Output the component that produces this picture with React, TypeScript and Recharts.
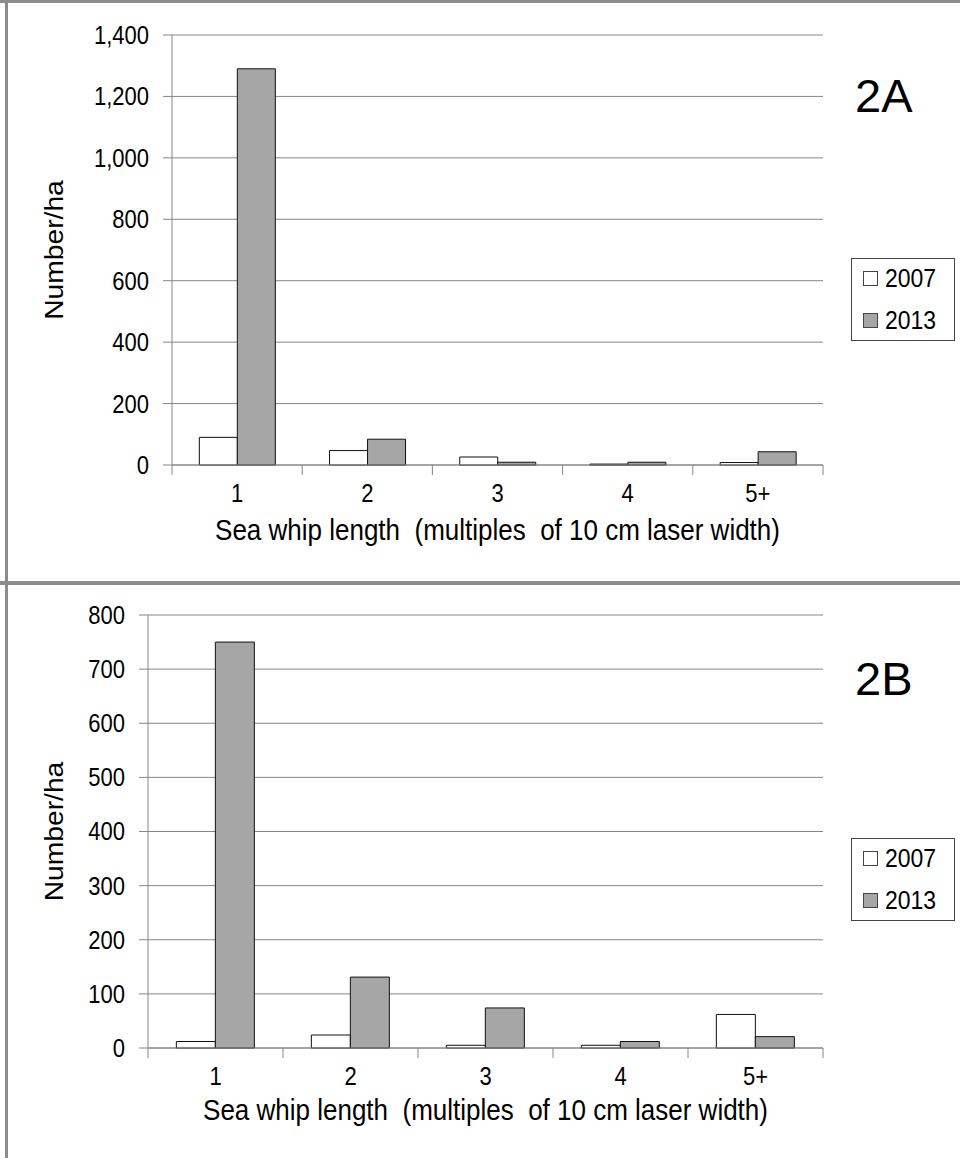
import React from "react";
import { BarChart, Bar, XAxis, YAxis, CartesianGrid, Legend } from "recharts";

const categories = ["1", "2", "3", "4", "5+"];
const seriesNames = ["2007", "2013"];

// panel 2A
const countsA2007 = [90, 47, 26, 3, 8];
const countsA2013 = [1290, 84, 9, 9, 43];
const ticksA = [0, 200, 400, 600, 800, 1000, 1200, 1400];

// panel 2B
const countsB2007 = [12, 24, 5, 5, 62];
const countsB2013 = [750, 131, 74, 12, 21];
const ticksB = [0, 100, 200, 300, 400, 500, 600, 700, 800];

const font = '"Liberation Sans", Arial, sans-serif';
const lineGray = "#868686";
const fills = ["#ffffff", "#a6a6a6"];
const xTitle = "Sea whip length  (multiples  of 10 cm laser width)";
// the source figure's text is a little taller than it is wide
const stretch = 1.13;

function CategoryTick(props: any) {
  const { x, y, payload, index, width } = props;
  const half = payload.offset ?? width / categories.length / 2;
  return (
    <g>
      <line x1={x - half} x2={x - half} y1={y} y2={y + 10} stroke={lineGray} />
      {index === categories.length - 1 && (
        <line x1={x + half} x2={x + half} y1={y} y2={y + 10} stroke={lineGray} />
      )}
      <text
        transform={`translate(${x} ${y + 37}) scale(1 ${stretch})`}
        textAnchor="middle"
        fontSize={22}
        fill="#000"
        fontFamily={font}
      >
        {payload.value}
      </text>
    </g>
  );
}

function ValueTick(props: any) {
  const { x, y, payload } = props;
  return (
    <text
      transform={`translate(${x} ${y}) scale(1 ${stretch})`}
      dy="0.36em"
      textAnchor="end"
      fontSize={22}
      fill="#000"
      fontFamily={font}
    >
      {payload.value.toLocaleString("en-US")}
    </text>
  );
}

function LegendBox() {
  return (
    <div
      style={{
        border: "1px solid #444",
        background: "#fff",
        width: 104,
        height: 83,
        boxSizing: "border-box",
        fontFamily: font,
        fontSize: 23,
        color: "#000",
        paddingTop: 6,
      }}
    >
      {seriesNames.map((name, i) => (
        <div key={name} style={{ display: "flex", alignItems: "center", height: 27, marginBottom: i === 0 ? 15 : 0 }}>
          <span
            style={{
              display: "inline-block",
              width: 13,
              height: 13,
              marginLeft: 11,
              marginRight: 7,
              background: fills[i],
              border: "1px solid #444",
            }}
          />
          <span style={{ display: "inline-block", transform: `scaleY(${stretch})` }}>{name}</span>
        </div>
      ))}
    </div>
  );
}

interface PanelProps {
  top: number;
  height: number;
  a: number[];
  b: number[];
  ticks: number[];
  axisWidth: number;
  bottomMargin: number;
  titleDy: number;
}

function Panel({ top, height, a, b, ticks, axisWidth, bottomMargin, titleDy }: PanelProps) {
  const data = categories.map((c, i) => ({ name: c, y2007: a[i], y2013: b[i] }));
  return (
    <div style={{ position: "absolute", left: 0, top }}>
      <BarChart
        width={960}
        height={height}
        data={data}
        margin={{ top: 35, right: 137, bottom: bottomMargin, left: 0 }}
        barCategoryGap="21%"
        barGap={0}
      >
        <CartesianGrid vertical={false} stroke={lineGray} />
        <XAxis
          dataKey="name"
          height={85}
          stroke={lineGray}
          tickLine={false}
          tickSize={0}
          tickMargin={0}
          tick={<CategoryTick />}
          label={{
            content: ({ viewBox }: any) => (
              <text
                transform={`translate(${viewBox.x + viewBox.width / 2} ${viewBox.y + titleDy}) scale(1 ${stretch})`}
                textAnchor="middle"
                fontSize={26}
                fill="#000"
                fontFamily={font}
                style={{ whiteSpace: "pre" }}
              >
                {xTitle}
              </text>
            ),
          }}
        />
        <YAxis
          width={axisWidth}
          domain={[0, ticks[ticks.length - 1]]}
          ticks={ticks}
          interval={0}
          stroke={lineGray}
          tickSize={9}
          tickMargin={14}
          tick={<ValueTick />}
          label={{
            content: ({ viewBox }: any) => {
              const cy = viewBox.y + viewBox.height / 2;
              return (
                <text
                  transform={`translate(63 ${cy}) rotate(-90) scale(${stretch} 1)`}
                  textAnchor="middle"
                  fontSize={25}
                  fill="#000"
                  fontFamily={font}
                >
                  Number/ha
                </text>
              );
            },
          }}
        />
        <Legend
          layout="vertical"
          align="center"
          verticalAlign="middle"
          content={() => <LegendBox />}
          wrapperStyle={{ left: 851, top: 258, width: 104 }}
        />
        <Bar dataKey="y2007" name={seriesNames[0]} fill={fills[0]} stroke="#111" isAnimationActive={false} />
        <Bar dataKey="y2013" name={seriesNames[1]} fill={fills[1]} stroke="#111" isAnimationActive={false} />
      </BarChart>
    </div>
  );
}

export default function App() {
  const border = "#8c8c8c";
  const tag = { position: "absolute" as const, left: 855, fontSize: 47, lineHeight: "47px", fontFamily: font, color: "#000" };
  return (
    <div style={{ position: "absolute", left: 0, top: 0, width: 960, height: 1158, background: "#fff", overflow: "hidden" }}>
      <Panel top={0} height={580} a={countsA2007} b={countsA2013} ticks={ticksA} axisWidth={172} bottomMargin={30} titleDy={75} />
      <Panel top={580} height={578} a={countsB2007} b={countsB2013} ticks={ticksB} axisWidth={148} bottomMargin={25} titleDy={72} />
      <div style={{ ...tag, top: 72 }}>2A</div>
      <div style={{ ...tag, top: 655 }}>2B</div>
      <div style={{ position: "absolute", left: 0, top: 0, width: 960, height: 3, background: border }} />
      <div style={{ position: "absolute", left: 5, top: 0, width: 3, height: 1158, background: border }} />
      <div style={{ position: "absolute", left: 0, top: 581, width: 960, height: 4, background: border }} />
    </div>
  );
}
